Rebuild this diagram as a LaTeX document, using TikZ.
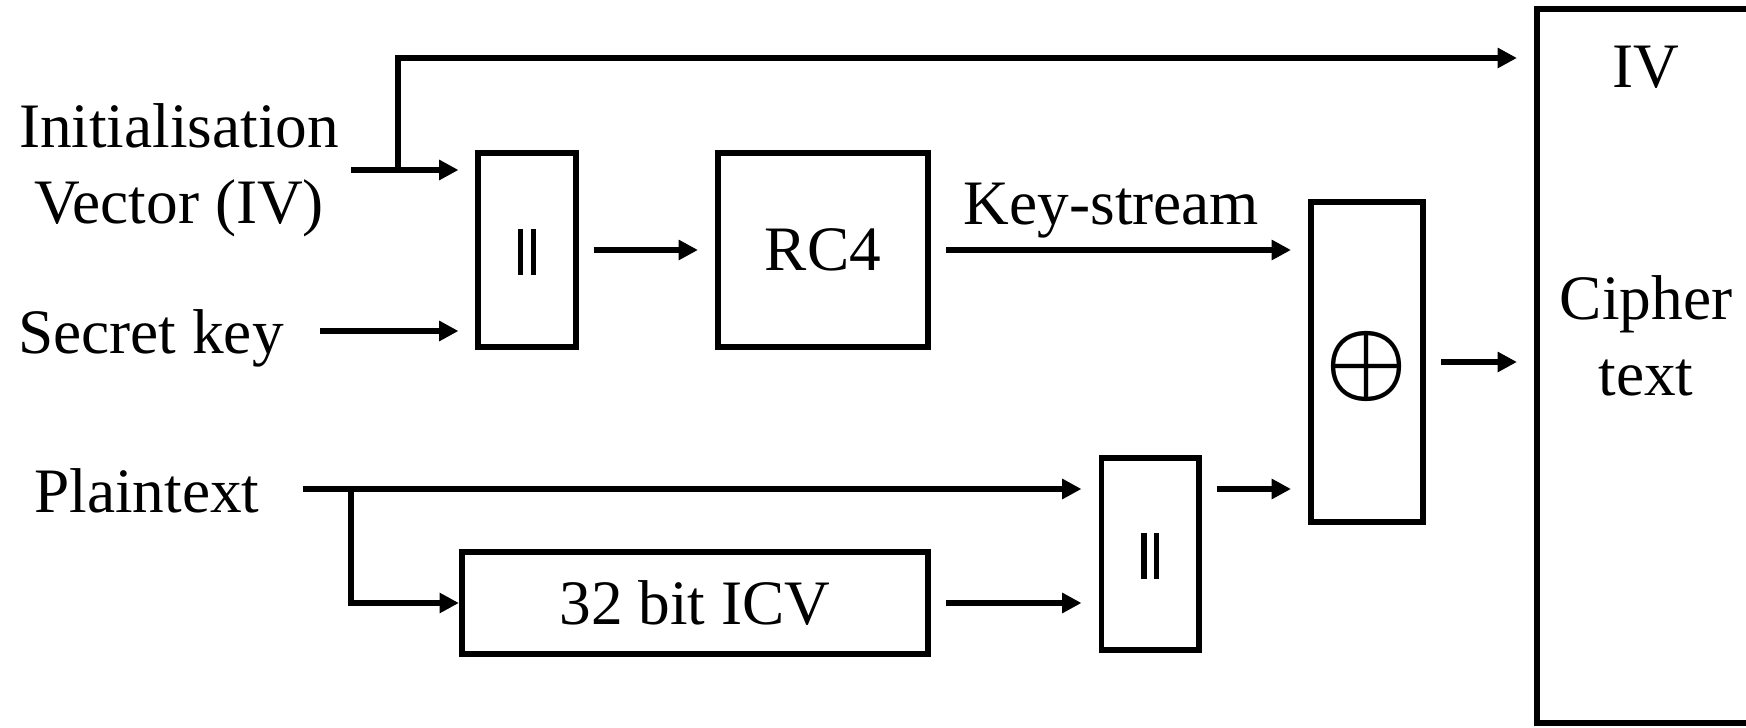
\documentclass[tikz,border=0pt]{standalone}
\usepackage{fontspec}
\setmainfont{Liberation Serif}
\usepackage{tikz}
\usetikzlibrary{positioning, arrows.meta, calc}
\newcommand{\catbars}{\rule{1.56pt}{12.8pt}\hspace{2pt}\rule{1.56pt}{12.8pt}}

\begin{document}
\begin{tikzpicture}[
            x=0.01cm, y=-0.01cm,
            font=\fontsize{18}{21.5}\selectfont,
            blockbox/.style={draw=black, line width=1.7pt, rectangle, inner sep=0pt},
            txt/.style={inner sep=0pt, align=center},
            link/.style={line width=1.7pt, -{Triangle[length=5.5pt, width=5.5pt]}, shorten >=0.17cm},
            gapped/.style={shorten <=0.15cm}
        ]
        \useasboundingbox (0,0) rectangle (1746,728);

        % Bloecke
        \node[blockbox, minimum width=0.97cm, minimum height=1.93cm] (cat1) at (527,250) {};
        \node[blockbox, minimum width=2.10cm, minimum height=1.93cm] (rc4) at (823,250) {RC4};
        \node[blockbox, minimum width=1.12cm, minimum height=3.20cm] (xor) at (1367,362) {};
        \node[blockbox, minimum width=0.97cm, minimum height=1.92cm] (cat2) at (1150,554) {};
        \node[blockbox, minimum width=4.66cm, minimum height=1.01cm] (icv) at (695,603) {32 bit ICV};
        \node[blockbox, minimum width=2.62cm, minimum height=7.14cm] (out) at (1668,366) {};

        % Symbole und Texte
        \node[txt] (cat1sym) at (527,252) {\catbars};
        \node[txt] (cat2sym) at (1150,556) {\catbars};
        \node[txt] (xorsym) at (1367,367) {\fontsize{24}{24}\selectfont\scalebox{1.05}{\boldmath$\oplus$}};
        \node[txt] (ivtxt) at (179,170) {Initialisation\\Vector (IV)};
        \node[txt] (sktxt) at (151,338) {Secret key};
        \node[txt] (pttxt) at (147,491) {Plaintext};
        \node[txt] (outiv) at (1646,67) {IV};
        \node[txt] (outct) at (1646,336) {Cipher\\text};

        % Hilfspunkte
        \coordinate (ivin) at (351,170);
        \coordinate (ivbranch) at (398,170);
        \coordinate (ivtop) at (398,58);
        \coordinate (skin) at (320,331);
        \coordinate (ptin) at (303,489);
        \coordinate (ptbranch) at (351,489);

        % Kanten
        \draw[link] (ivin) -- (cat1.west |- ivin);
        \draw[link] (ivbranch) -- (ivtop) -- (out.west |- ivtop);
        \draw[link] (skin) -- (cat1.west |- skin);
        \draw[link, gapped] (cat1.east) -- (rc4.west);
        \draw[link, gapped] (rc4.east) -- (xor.west |- rc4.east) node[midway, above=2.4pt, xshift=-0.08cm, txt] {Key-stream};
        \draw[link, gapped] (xor.east) -- (out.west |- xor.east);
        \draw[link] (ptin) -- (cat2.west |- ptin);
        \draw[link, shorten >=0pt] (ptbranch) |- (icv.west);
        \draw[link, gapped] (icv.east) -- (cat2.west |- icv.east);
        \draw[link, gapped] (cat2.east |- ptin) -- (xor.west |- ptin);

    \end{tikzpicture}
\end{document}
